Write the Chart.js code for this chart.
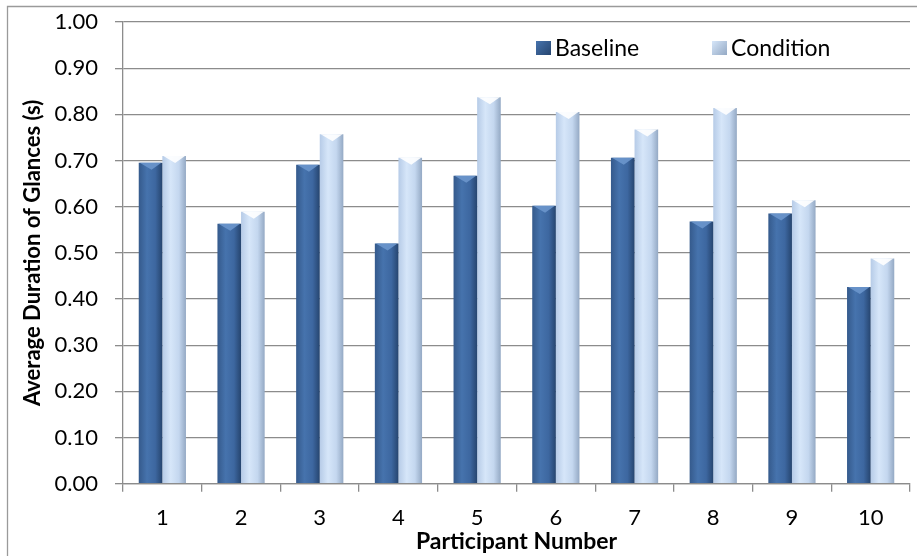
<!DOCTYPE html>
<html>
<head>
<meta charset="utf-8">
<script src="https://cdn.jsdelivr.net/npm/chart.js@4.4.1/dist/chart.umd.min.js"></script>
<style>
html,body{margin:0;padding:0;background:#fff;}
#wrap{position:relative;width:917px;height:556px;}
</style>
</head>
<body>
<div id="wrap"><canvas id="c" width="917" height="556"></canvas></div>
<script>
const categories = ['1','2','3','4','5','6','7','8','9','10'];
const baseline = [0.695, 0.563, 0.691, 0.520, 0.667, 0.602, 0.706, 0.568, 0.585, 0.426];
const condition = [0.710, 0.589, 0.757, 0.706, 0.837, 0.805, 0.767, 0.814, 0.614, 0.488];
const seriesNames = ['Baseline', 'Condition'];
const yTitle = 'Average Duration of Glances (s)';
const xTitle = 'Participant Number';

const FONT = 'Lato, "Open Sans", sans-serif';
const GRID = '#8c8c8c';

const palettes = [
  {stops: ['#355a8c', '#4673ad', '#3d67a0', '#26456f'], cap: '#6b96cc'},
  {stops: ['#b6cbe7', '#d6e6f9', '#c4d7ef', '#94a9c4'], cap: '#ffffff'}
];

function makeGrad(ctx, x0, x1, p) {
  const g = ctx.createLinearGradient(x0, 0, x1, 0);
  g.addColorStop(0, p.stops[0]);
  g.addColorStop(0.35, p.stops[1]);
  g.addColorStop(0.7, p.stops[2]);
  g.addColorStop(1, p.stops[3]);
  return g;
}

const barStyle = {
  id: 'barStyle',
  beforeDatasetsDraw(chart) {
    const ctx = chart.ctx;
    chart.data.datasets.forEach((ds, di) => {
      const meta = chart.getDatasetMeta(di);
      meta.data.forEach(el => {
        const w = el.width;
        const o = Object.assign({}, el.options);
        o.backgroundColor = makeGrad(ctx, el.x - w / 2, el.x + w / 2, palettes[di]);
        el.options = o;
      });
    });
  },
  afterDatasetsDraw(chart) {
    const ctx = chart.ctx;
    chart.data.datasets.forEach((ds, di) => {
      const meta = chart.getDatasetMeta(di);
      meta.data.forEach(el => {
        const w = el.width, l = el.x - w / 2, r = el.x + w / 2, t = el.y;
        ctx.save();
        ctx.fillStyle = palettes[di].cap;
        ctx.globalAlpha = 0.9;
        ctx.beginPath();
        ctx.moveTo(l + 1, t);
        ctx.lineTo(r - 1, t);
        ctx.lineTo(el.x + 1, t + 7);
        ctx.closePath();
        ctx.fill();
        ctx.restore();
      });
    });
  }
};

const frameAndLegend = {
  id: 'frameAndLegend',
  beforeDraw(chart) {
    const ctx = chart.ctx;
    ctx.save();
    ctx.strokeStyle = '#9a9a9a';
    ctx.lineWidth = 1.3;
    ctx.beginPath();
    ctx.moveTo(7.5, 600);
    ctx.lineTo(7.5, 6.5);
    ctx.lineTo(1000, 6.5);
    ctx.stroke();
    ctx.restore();
  },
  afterDraw(chart) {
    const ctx = chart.ctx;
    const ca = chart.chartArea;
    const cy = ca.top + 26;
    const xs = [ca.left + 413, ca.left + 589];
    ctx.save();
    ctx.font = '23px ' + FONT;
    ctx.textBaseline = 'middle';
    ctx.textAlign = 'left';
    seriesNames.forEach((name, i) => {
      const bx = xs[i];
      const g = ctx.createLinearGradient(bx, cy - 7, bx + 15, cy + 7);
      g.addColorStop(0, palettes[i].stops[1]);
      g.addColorStop(1, palettes[i].stops[3]);
      ctx.fillStyle = g;
      ctx.fillRect(bx, cy - 7, 15, 14);
      ctx.fillStyle = '#000';
      ctx.fillText(name, bx + 19, cy + 1);
    });
    ctx.restore();
  }
};

new Chart(document.getElementById('c'), {
  type: 'bar',
  data: {
    labels: categories,
    datasets: [
      {label: seriesNames[0], data: baseline, backgroundColor: '#4470a8', borderWidth: 0},
      {label: seriesNames[1], data: condition, backgroundColor: '#d5e5f8', borderWidth: 0}
    ]
  },
  options: {
    responsive: false,
    animation: false,
    devicePixelRatio: 1,
    categoryPercentage: 0.6,
    barPercentage: 1.0,
    layout: {padding: {left: 0, right: 7, top: 22, bottom: 0}},
    plugins: {legend: {display: false}, tooltip: {enabled: false}},
    scales: {
      x: {
        offset: true,
        grid: {offset: true, drawOnChartArea: false, drawTicks: true, tickLength: 8, color: GRID, lineWidth: 1.3},
        border: {color: GRID, width: 1.3},
        ticks: {color: '#000', font: {family: FONT, size: 22}, padding: 13},
        title: {display: true, text: xTitle, color: '#000', font: {family: FONT, size: 23, weight: 'bold'}, padding: {top: 0, bottom: 1}},
        afterFit(s) { s.height = 72.3; s.paddingLeft = 0; s.paddingRight = 0; }
      },
      y: {
        min: 0, max: 1,
        grid: {color: GRID, lineWidth: 1.3, tickLength: 8},
        border: {color: GRID, width: 1.3},
        ticks: {stepSize: 0.1, color: '#000', font: {family: FONT, size: 22}, padding: 17,
          callback: v => v.toFixed(2)},
        title: {display: true, text: yTitle, color: '#000', font: {family: FONT, size: 22, weight: 'bold'}, padding: {top: 20, bottom: 0}},
        afterFit(s) { s.width = 123; s.paddingTop = 0; s.paddingBottom = 0; }
      }
    }
  },
  plugins: [barStyle, frameAndLegend]
});
</script>
</body>
</html>
